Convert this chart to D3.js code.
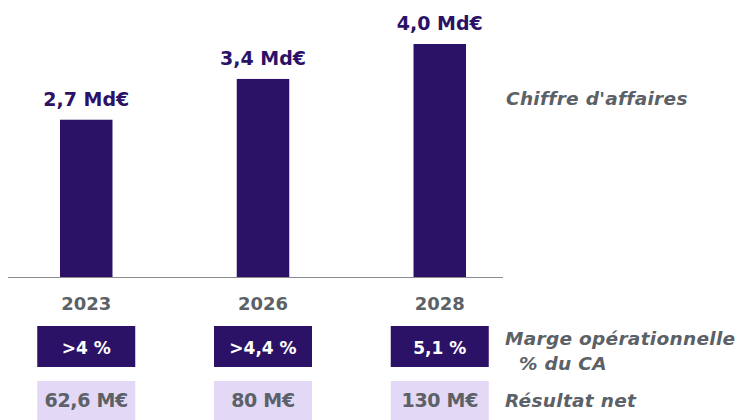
<!DOCTYPE html>
<html>
<head>
<meta charset="utf-8">
<script src="https://cdn.jsdelivr.net/npm/d3@7"></script>
<style>
  body { margin: 0; background: #fff; }
  svg { display: block; }
  text { font-family: "DejaVu Sans", sans-serif; }
</style>
</head>
<body>
<div id="chart"></div>
<script>
const years = ["2023", "2026", "2028"];
const revenue = [2.7, 3.4, 4.0];
const revenueLabels = ["2,7 Md€", "3,4 Md€", "4,0 Md€"];
const marginLabels = [">4 %", ">4,4 %", "5,1 %"];
const netLabels = ["62,6 M€", "80 M€", "130 M€"];

const W = 746, H = 420;
const dark = "#2c1266";
const light = "#e3d8f6";
const grey = "#5b6166";

const svg = d3.select("#chart")
    .append("svg")
    .attr("width", W)
    .attr("height", H);

const x = d3.scaleBand()
    .domain(years)
    .range([60, 466])
    .paddingInner(0.703)
    .paddingOuter(0);

const y = d3.scaleLinear()
    .domain([0, 4])
    .range([277, 44]);

// bars
svg.append("g")
    .attr("fill", dark)
    .selectAll("rect")
    .data(years)
    .join("rect")
    .attr("x", d => x(d))
    .attr("y", (d, i) => y(revenue[i]))
    .attr("width", x.bandwidth())
    .attr("height", (d, i) => y(0) - y(revenue[i]));

// value labels
svg.append("g")
    .selectAll("text")
    .data(years)
    .join("text")
    .attr("x", d => x(d) + x.bandwidth() / 2)
    .attr("y", (d, i) => y(revenue[i]) - 14)
    .attr("text-anchor", "middle")
    .attr("fill", dark)
    .attr("font-size", 19)
    .attr("font-weight", "bold")
    .text((d, i) => revenueLabels[i]);

// baseline
svg.append("line")
    .attr("x1", 8).attr("x2", 503)
    .attr("y1", y(0) + 0.5).attr("y2", y(0) + 0.5)
    .attr("stroke", "#8a8d90")
    .attr("stroke-width", 1.2);

// year labels
svg.append("g")
    .selectAll("text")
    .data(years)
    .join("text")
    .attr("x", d => x(d) + x.bandwidth() / 2)
    .attr("y", 310)
    .attr("text-anchor", "middle")
    .attr("fill", grey)
    .attr("font-size", 18)
    .attr("font-weight", "bold")
    .text(d => d);

const boxW = 98;

// margin boxes
const mg = svg.append("g")
    .selectAll("g")
    .data(years)
    .join("g")
    .attr("transform", d => `translate(${x(d) + x.bandwidth() / 2},0)`);
mg.append("rect")
    .attr("x", -boxW / 2).attr("y", 326)
    .attr("width", boxW).attr("height", 41)
    .attr("fill", dark);
mg.append("text")
    .attr("y", 354)
    .attr("text-anchor", "middle")
    .attr("fill", "#fff")
    .attr("font-size", 17)
    .attr("font-weight", "bold")
    .text((d, i) => marginLabels[i]);

// net result boxes
const ng = svg.append("g")
    .selectAll("g")
    .data(years)
    .join("g")
    .attr("transform", d => `translate(${x(d) + x.bandwidth() / 2},0)`);
ng.append("rect")
    .attr("x", -boxW / 2).attr("y", 381)
    .attr("width", boxW).attr("height", 39)
    .attr("fill", light);
ng.append("text")
    .attr("y", 407)
    .attr("text-anchor", "middle")
    .attr("fill", grey)
    .attr("font-size", 19)
    .attr("font-weight", "bold")
    .attr("letter-spacing", -0.3)
    .text((d, i) => netLabels[i]);

// row titles
const titles = [
    { t: "Chiffre d'affaires", x: 506, y: 105 },
    { t: "Marge opérationnelle", x: 505, y: 345 },
    { t: "% du CA", x: 519, y: 370 },
    { t: "Résultat net", x: 505, y: 407 }
];
svg.append("g")
    .selectAll("text")
    .data(titles)
    .join("text")
    .attr("x", d => d.x)
    .attr("y", d => d.y)
    .attr("fill", grey)
    .attr("font-size", 18.5)
    .attr("font-weight", "bold")
    .attr("font-style", "italic")
    .attr("letter-spacing", 0.3)
    .text(d => d.t);
</script>
</body>
</html>
